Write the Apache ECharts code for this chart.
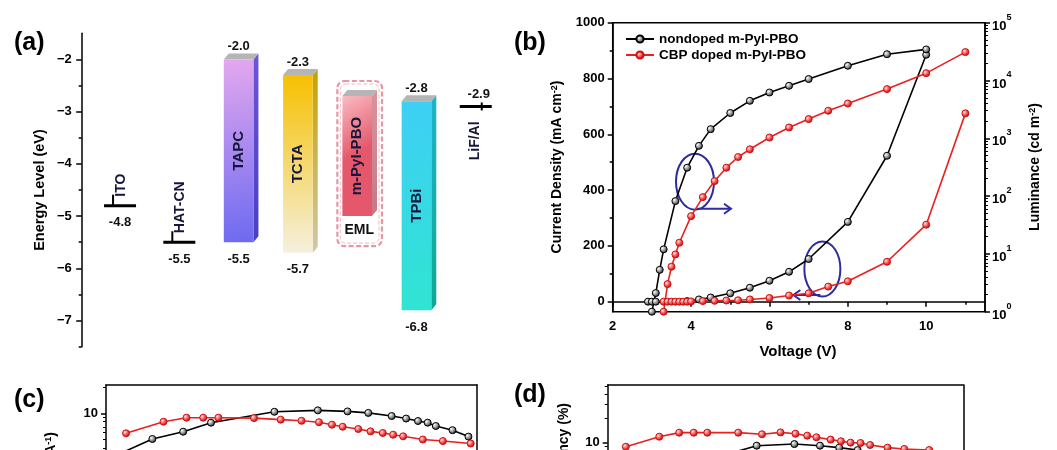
<!DOCTYPE html>
<html>
<head>
<meta charset="utf-8">
<script src="https://cdn.jsdelivr.net/npm/echarts@6/dist/echarts.min.js"></script>
<style>
  html, body { margin: 0; padding: 0; background: #ffffff; }
  #chart { width: 1057px; height: 450px; }
</style>
</head>
<body>
<div id="chart"></div>
<script>
// ---------------- DATA ----------------
// (a) energy levels
const layerNames  = ['ITO', 'HAT-CN', 'TAPC', 'TCTA', 'm-PyI-PBO', 'TPBi', 'LiF/Al'];
const lumoLevels  = [null, null, -2.0, -2.3, -2.7, -2.8, -2.9];
const homoLevels  = [-4.8, -5.5, -5.5, -5.7, -5.0, -6.8, null];
const emlLayer    = 'm-PyI-PBO';
const energyTicks = [-7, -6, -5, -4, -3, -2];

// (b) J-V-L
const seriesNames     = ['nondoped m-PyI-PBO', 'CBP doped m-PyI-PBO'];
const voltNondopedJ   = [2.9, 3.0, 3.1, 3.9, 4.2, 4.5, 5.0, 5.5, 6.0, 6.5, 7.0, 8.0, 9.0, 10.0];
const jNondoped       = [0, 0, 0, 2, 8, 15, 30, 50, 75, 107, 153, 286, 523, 885];
const voltNondopedL   = [3.0, 3.1, 3.2, 3.3, 3.6, 3.9, 4.2, 4.5, 5.0, 5.5, 6.0, 6.5, 7.0, 8.0, 9.0, 10.0];
const lumNondoped     = [1, 2.1, 5.3, 12, 82, 310, 740, 1440, 2740, 4450, 6200, 8100, 10600, 18000, 28500, 34500];
const voltDopedJ      = [3.3, 3.4, 3.5, 3.6, 3.7, 3.8, 3.9, 4.0, 4.3, 4.6, 4.9, 5.2, 5.5, 6.0, 6.5, 7.0, 7.5, 8.0, 9.0, 10.0, 11.0];
const jDoped          = [0, 0, 0, 0, 0, 0, 0, 1, 2, 3, 4, 5, 8, 13, 22, 30, 54, 73, 143, 276, 675];
const voltDopedL      = [3.3, 3.4, 3.5, 3.6, 3.7, 4.0, 4.3, 4.6, 4.9, 5.2, 5.5, 6.0, 6.5, 7.0, 7.5, 8.0, 9.0, 10.0, 11.0];
const lumDoped        = [1, 3.0, 6.0, 9.8, 15.6, 45, 96, 182, 310, 475, 645, 1030, 1540, 2150, 3000, 4000, 7100, 13400, 31000];
const voltTicks       = [2, 4, 6, 8, 10];
const voltMinorTicks  = [3, 5, 7, 9, 11];
const jTicks          = [0, 200, 400, 600, 800, 1000];
const jMinorTicks     = [100, 300, 500, 700, 900];
const lumTicks        = [1, 10, 100, 1000, 10000, 100000];
const annotCenters    = [[4.1, 430], [7.35, 117]];

// (c) current efficiency (only the top strip is visible)
const ceXNondoped = [3.5, 12.5, 20.8, 28.3, 45.4, 57.1, 65.1, 70.7, 77.0, 80.9, 84.1, 86.7, 88.9, 93.4, 97.7];
const ceNondoped  = [3.4, 5.07, 6.15, 7.8, 10.4, 10.8, 10.5, 10.1, 9.3, 8.7, 8.15, 7.8, 7.15, 6.4, 5.4];
const ceXDoped    = [5.4, 15.5, 21.7, 26.2, 30.3, 39.9, 47.1, 52.7, 57.4, 60.9, 63.8, 68.0, 71.3, 74.6, 77.4, 80.1, 85.4, 90.8, 98.3];
const ceDoped     = [5.89, 8.0, 8.9, 8.9, 8.9, 8.8, 8.45, 8.2, 7.9, 7.4, 7.0, 6.6, 6.2, 5.94, 5.68, 5.44, 5.0, 4.8, 4.5];

// (d) EQE (only the top strip is visible)
const eqeXNondoped = [25, 41.9, 52.5, 59.7, 65.1, 70.3, 76, 82];
const eqeNondoped  = [5.5, 9.07, 9.5, 9.07, 8.57, 8.0, 7.0, 6.0];
const eqeXDoped    = [5.1, 14.5, 20.1, 24.2, 28.0, 36.7, 43.4, 48.6, 52.8, 56.1, 58.7, 62.7, 65.6, 68.3, 71.1, 73.8, 78.7, 83.4, 90.4];
const eqeDoped     = [8.8, 11.75, 13.2, 13.2, 13.2, 13.2, 12.6, 13.3, 12.8, 12.1, 11.55, 10.8, 10.3, 9.9, 9.8, 9.25, 8.57, 8.25, 8.0];

// ---------------- STYLE ----------------
const FONT = '"Liberation Sans", Arial, Helvetica, sans-serif';
const barStyles = {
  'TAPC':      { dir: [0, 0, 1, 1],   from: '#e4a8ef', to: '#6c6af1', side: ['#6a56d8', '#4a40c0'] },
  'TCTA':      { dir: [0, 0, 0, 1],   from: '#f6c000', to: '#f5f0de', side: ['#c9a000', '#cfc8a8'] },
  'm-PyI-PBO': { dir: [0, 0, 1, 0.4], from: '#f9bcc4', to: '#e5586b', side: ['#d8949e', '#c47a86'] },
  'TPBi':      { dir: [0, 0, 0, 1],   from: '#3ecff5', to: '#30e4d2', side: ['#1fb3c6', '#10a894'] }
};
function pairs(xs, ys) { return xs.map((x, i) => [x, ys[i]]); }
function markerFill(dark) {
  return dark
    ? new echarts.graphic.RadialGradient(0.35, 0.35, 0.7, [{offset: 0, color: '#ffffff'}, {offset: 0.55, color: '#8a8a8a'}, {offset: 1, color: '#111111'}])
    : new echarts.graphic.RadialGradient(0.35, 0.35, 0.7, [{offset: 0, color: '#ffe4e4'}, {offset: 0.55, color: '#f04a4a'}, {offset: 1, color: '#b00000'}]);
}
function lineSeries(name, data, xi, yi, dark) {
  return {
    name: name, type: 'line', xAxisIndex: xi, yAxisIndex: yi, data: data,
    symbol: 'circle', symbolSize: 7, showSymbol: true,
    lineStyle: { color: dark ? '#000000' : '#e8211f', width: 1.6 },
    itemStyle: { color: markerFill(dark), borderColor: dark ? '#000000' : '#d01010', borderWidth: 1 },
    emphasis: { disabled: true }
  };
}

function renderLayer(params, api) {
  const i = params.dataIndex;
  const name = layerNames[i];
  const lumo = lumoLevels[i];
  const homo = homoLevels[i];
  const cx = api.coord([i, -4])[0];
  const band = api.size([1, 0])[0];
  const w = band * 0.5, d = 5, dy = 6;
  const kids = [];
  const lbl = (txt, x, y, size) => ({ type: 'text', x: x, y: y,
    style: { text: txt, font: 'bold ' + (size || 13) + 'px ' + FONT, fill: '#111', align: 'center', verticalAlign: 'middle' } });
  const vname = (txt, x, y, align, size) => ({ type: 'text', x: x, y: y, rotation: Math.PI / 2,
    style: { text: txt, font: 'bold ' + (size || 15) + 'px ' + FONT, fill: '#16163a', align: align, verticalAlign: 'middle' } });

  if (lumo != null && homo != null) {
    const yT = api.coord([i, lumo])[1], yB = api.coord([i, homo])[1];
    const x0 = cx - w / 2, x1 = cx + w / 2;
    const st = barStyles[name];
    if (name === emlLayer) {
      kids.push({ type: 'rect', shape: { x: x0 - 5, y: yT - 15, width: w + d + 10, height: yB - yT + 45, r: 7 },
        style: { fill: 'rgba(255,255,255,0)', stroke: '#e896a3', lineWidth: 2.2, lineDash: [5, 2.5] } });
      kids.push({ type: 'rect', shape: { x: x0 - 2, y: yT - 12, width: w + d + 4, height: yB - yT + 39, r: 5 },
        style: { fill: 'rgba(255,255,255,0)', stroke: '#f2b8c1', lineWidth: 1, lineDash: [4, 2] } });
      kids.push(lbl('EML', cx + 2, yB + 14, 14));
    }
    kids.push({ type: 'polygon', shape: { points: [[x1, yT], [x1 + d, yT - dy], [x1 + d, yB - dy], [x1, yB]] },
      style: { fill: new echarts.graphic.LinearGradient(0, 0, 0, 1, [{offset: 0, color: st.side[0]}, {offset: 1, color: st.side[1]}]) } });
    kids.push({ type: 'polygon', shape: { points: [[x0, yT], [x0 + d, yT - dy], [x1 + d, yT - dy], [x1, yT]] },
      style: { fill: '#b5b5b5' } });
    kids.push({ type: 'rect', shape: { x: x0, y: yT, width: w, height: yB - yT },
      style: { fill: new echarts.graphic.LinearGradient(st.dir[0], st.dir[1], st.dir[2], st.dir[3],
        [{offset: 0, color: st.from}, {offset: 1, color: st.to}]) } });
    kids.push(vname(name, cx, (yT + yB) / 2, 'center'));
    if (name !== emlLayer) {
      kids.push(lbl(lumo.toFixed(1), cx, yT - 13));
      kids.push(lbl(homo.toFixed(1), cx, yB + 17));
    }
  } else if (homo != null) {
    const y = api.coord([i, homo])[1];
    kids.push({ type: 'line', shape: { x1: cx - 16, y1: y, x2: cx + 16, y2: y }, style: { stroke: '#000', lineWidth: 3 } });
    kids.push({ type: 'line', shape: { x1: cx - 7, y1: y, x2: cx - 7, y2: y - 11 }, style: { stroke: '#000', lineWidth: 2 } });
    kids.push(vname(name, cx + 1, y - 9, 'left', 14));
    kids.push(lbl(homo.toFixed(1), cx, y + 17));
  } else {
    const y = api.coord([i, lumo])[1];
    kids.push({ type: 'line', shape: { x1: cx - 16, y1: y, x2: cx + 16, y2: y }, style: { stroke: '#000', lineWidth: 3 } });
    kids.push({ type: 'line', shape: { x1: cx + 6, y1: y - 4, x2: cx + 6, y2: y + 4 }, style: { stroke: '#000', lineWidth: 2 } });
    kids.push(vname(name, cx - 1, y + 15, 'right', 14));
    kids.push(lbl(lumo.toFixed(1), cx + 3, y - 12));
  }
  return { type: 'group', children: kids };
}

// ---------------- AXES ----------------
const axisLineStyle = { color: '#000', width: 1.5 };
const tickLabel = { color: '#000', fontWeight: 'bold', fontSize: 13, fontFamily: FONT };
function minorTicks(fromDecade, toDecade) {
  const out = [];
  for (let k = fromDecade; k < toDecade; k++) for (let m = 2; m <= 9; m++) out.push(m * Math.pow(10, k));
  return out;
}
const supRich = {
  b: { fontSize: 13, fontWeight: 'bold', fontFamily: FONT, color: '#000', lineHeight: 20, verticalAlign: 'bottom' },
  s: { fontSize: 9, fontWeight: 'bold', fontFamily: FONT, color: '#000', lineHeight: 10, verticalAlign: 'top' }
};
function frameAxisY(gridIndex, min, max) {
  return { gridIndex: gridIndex, type: 'log', logBase: 10, min: min, max: max, position: 'right',
    axisLine: { show: true, lineStyle: axisLineStyle }, axisTick: { show: false }, axisLabel: { show: false }, splitLine: { show: false } };
}
const ceMin = 3.79, ceMax = 21.1, eqeMin = 8.01, eqeMax = 52;

const option = {
  animation: false,
  backgroundColor: '#ffffff',
  grid: [
    { left: 90.4, top: 33.3, width: 415, height: 313.4 },
    { left: 612.7, top: 22.7, width: 372.3, height: 289, show: true, borderColor: '#000', borderWidth: 1.5, backgroundColor: 'transparent' },
    { left: 106, top: 385, width: 371, height: 65 },
    { left: 607.7, top: 385, width: 355.6, height: 65 }
  ],
  xAxis: [
    { gridIndex: 0, type: 'category', data: layerNames, show: false },
    { gridIndex: 1, type: 'value', min: 2, max: 11.5, position: 'bottom',
      axisLine: { lineStyle: axisLineStyle },
      axisTick: { customValues: voltTicks, length: 5, lineStyle: axisLineStyle },
      axisLabel: Object.assign({ customValues: voltTicks, margin: 8, fontSize: 14 }, tickLabel),
      splitLine: { show: false } },
    { gridIndex: 1, type: 'value', min: 2, max: 11.5, position: 'bottom',
      axisLine: { show: false },
      axisTick: { customValues: voltMinorTicks, length: 3, lineStyle: axisLineStyle },
      axisLabel: { show: false }, splitLine: { show: false } },
    { gridIndex: 2, type: 'value', min: 0, max: 100, position: 'top', axisLine: { lineStyle: axisLineStyle },
      axisTick: { show: false }, axisLabel: { show: false }, splitLine: { show: false } },
    { gridIndex: 3, type: 'value', min: 0, max: 100, position: 'top', axisLine: { lineStyle: axisLineStyle },
      axisTick: { show: false }, axisLabel: { show: false }, splitLine: { show: false } }
  ],
  yAxis: [
    { gridIndex: 0, type: 'value', min: -7.5, max: -1.5, position: 'left', offset: 8.7,
      axisLine: { show: true, lineStyle: axisLineStyle },
      axisTick: { show: true, customValues: energyTicks, length: 5.5, lineStyle: axisLineStyle },
      axisLabel: Object.assign({ customValues: energyTicks, margin: 10, fontSize: 14,
        formatter: v => (v < 0 ? '\u2212' : '') + Math.abs(v) }, tickLabel),
      splitLine: { show: false } },
    { gridIndex: 0, type: 'value', min: -7.5, max: -1.5, position: 'left', offset: 8.7,
      axisLine: { show: false },
      axisTick: { show: true, customValues: [-7.5, -6.5, -5.5, -4.5, -3.5, -2.5], length: 3, lineStyle: axisLineStyle },
      axisLabel: { show: false }, splitLine: { show: false } },
    { gridIndex: 1, type: 'value', min: -36, max: 1000, position: 'left',
      axisLine: { show: true, lineStyle: axisLineStyle },
      axisTick: { show: true, customValues: jTicks, length: 5, lineStyle: axisLineStyle },
      axisLabel: Object.assign({ customValues: jTicks, margin: 8, formatter: v => String(v) }, tickLabel),
      splitLine: { show: false } },
    { gridIndex: 1, type: 'value', min: -36, max: 1000, position: 'left',
      axisLine: { show: false },
      axisTick: { show: true, customValues: jMinorTicks, length: 3, lineStyle: axisLineStyle },
      axisLabel: { show: false }, splitLine: { show: false } },
    { gridIndex: 1, type: 'log', logBase: 10, min: 1, max: 100000, position: 'right',
      axisLine: { show: true, lineStyle: axisLineStyle },
      axisTick: { show: true, customValues: lumTicks, length: 5, lineStyle: axisLineStyle },
      axisLabel: { customValues: lumTicks, margin: 7, rich: supRich,
        formatter: v => '{b|10}{s|' + Math.round(Math.log10(v)) + '}' },
      splitLine: { show: false } },
    { gridIndex: 1, type: 'log', logBase: 10, min: 1, max: 100000, position: 'right',
      axisLine: { show: false },
      axisTick: { show: true, customValues: minorTicks(0, 5), length: 3, lineStyle: { color: '#000', width: 1 } },
      axisLabel: { show: false }, splitLine: { show: false } },
    { gridIndex: 2, type: 'log', logBase: 10, min: ceMin, max: ceMax, position: 'left',
      axisLine: { show: true, lineStyle: axisLineStyle },
      axisTick: { show: true, customValues: [10], length: 5, lineStyle: axisLineStyle },
      axisLabel: Object.assign({ customValues: [10], margin: 8, formatter: v => String(Math.round(v)) }, tickLabel),
      splitLine: { show: false } },
    { gridIndex: 2, type: 'log', logBase: 10, min: ceMin, max: ceMax, position: 'left',
      axisLine: { show: false },
      axisTick: { show: true, customValues: [4, 5, 6, 7, 8, 9, 20], length: 3, lineStyle: { color: '#000', width: 1 } },
      axisLabel: { show: false }, splitLine: { show: false } },
    { gridIndex: 3, type: 'log', logBase: 10, min: eqeMin, max: eqeMax, position: 'left',
      axisLine: { show: true, lineStyle: axisLineStyle },
      axisTick: { show: true, customValues: [10], length: 5, lineStyle: axisLineStyle },
      axisLabel: Object.assign({ customValues: [10], margin: 8, formatter: v => String(Math.round(v)) }, tickLabel),
      splitLine: { show: false } },
    { gridIndex: 3, type: 'log', logBase: 10, min: eqeMin, max: eqeMax, position: 'left',
      axisLine: { show: false },
      axisTick: { show: true, customValues: [9, 20, 30, 40, 50], length: 3, lineStyle: { color: '#000', width: 1 } },
      axisLabel: { show: false }, splitLine: { show: false } },
    frameAxisY(2, ceMin, ceMax),
    frameAxisY(3, eqeMin, eqeMax)
  ],
  legend: {
    data: seriesNames, left: 625, top: 32, orient: 'vertical',
    itemWidth: 28, itemHeight: 9, itemGap: 2, padding: 0,
    textStyle: { color: '#000', fontWeight: 'bold', fontSize: 13.5, fontFamily: FONT, lineHeight: 14 },
    selectedMode: false
  },
  series: [
    { type: 'custom', xAxisIndex: 0, yAxisIndex: 0, renderItem: renderLayer,
      data: layerNames.map((n, i) => [i, homoLevels[i] != null ? homoLevels[i] : lumoLevels[i]]) },
    lineSeries(seriesNames[0], pairs(voltNondopedJ, jNondoped), 1, 2, true),
    lineSeries(seriesNames[0], pairs(voltNondopedL, lumNondoped), 1, 4, true),
    lineSeries(seriesNames[1], pairs(voltDopedJ, jDoped), 1, 2, false),
    lineSeries(seriesNames[1], pairs(voltDopedL, lumDoped), 1, 4, false),
    lineSeries(seriesNames[0], pairs(ceXNondoped, ceNondoped), 3, 6, true),
    lineSeries(seriesNames[1], pairs(ceXDoped, ceDoped), 3, 6, false),
    lineSeries(seriesNames[0], pairs(eqeXNondoped, eqeNondoped), 4, 8, true),
    lineSeries(seriesNames[1], pairs(eqeXDoped, eqeDoped), 4, 8, false)
  ]
};

const chart = echarts.init(document.getElementById('chart'), null, { renderer: 'canvas' });
chart.setOption(option);

// ---------------- TEXT & ANNOTATIONS ----------------
const titleRich = { s: { fontSize: 9, fontWeight: 'bold', fontFamily: FONT, fill: '#000', verticalAlign: 'top', lineHeight: 10, padding: [0, 0, 6, 0] } };
function txt(t, x, y, size, opts) {
  return Object.assign({ type: 'text', x: x, y: y, silent: true,
    style: Object.assign({ text: t, font: 'bold ' + size + 'px ' + FONT, fill: '#000', align: 'left', verticalAlign: 'middle', rich: titleRich },
      (opts && opts.style) || {}) }, (opts && opts.el) || {});
}
const ROT = Math.PI / 2;
const graphics = [
  txt('(a)', 14, 43, 25),
  txt('(b)', 514, 43, 25),
  txt('(c)', 14, 400, 25),
  txt('(d)', 514, 395, 25),
  txt('Energy Level (eV)', 40, 190, 14.5, { el: { rotation: ROT }, style: { align: 'center' } }),
  txt('Current Density (mA cm{s|-2})', 557, 167, 14, { el: { rotation: ROT }, style: { align: 'center' } }),
  txt('Luminance (cd m{s|-2})', 1035, 167, 14, { el: { rotation: ROT }, style: { align: 'center' } }),
  txt('Voltage (V)', 798, 352, 15, { style: { align: 'center' } }),
  txt('Current Efficiency (cd A{s|-1})', 51, 432, 14, { el: { rotation: ROT }, style: { align: 'right' } }),
  txt('External Quantum Efficiency (%)', 564, 403, 14, { el: { rotation: ROT }, style: { align: 'right' } })
];
const blue = '#2c2c9e';
const c1 = chart.convertToPixel({ seriesIndex: 1 }, annotCenters[0]);
const c2 = chart.convertToPixel({ seriesIndex: 1 }, annotCenters[1]);
graphics.push(
  { type: 'ellipse', silent: true, shape: { cx: c1[0], cy: c1[1], rx: 19, ry: 28 }, style: { fill: 'none', stroke: blue, lineWidth: 2 } },
  { type: 'polyline', silent: true, shape: { points: [[c1[0] + 2, c1[1] + 27], [c1[0] + 36, c1[1] + 27]] }, style: { stroke: blue, lineWidth: 2 } },
  { type: 'polyline', silent: true, shape: { points: [[c1[0] + 29, c1[1] + 22], [c1[0] + 36, c1[1] + 27], [c1[0] + 29, c1[1] + 32]] }, style: { stroke: blue, lineWidth: 2, fill: 'none' } },
  { type: 'ellipse', silent: true, shape: { cx: c2[0], cy: c2[1], rx: 18, ry: 27.5 }, style: { fill: 'none', stroke: blue, lineWidth: 2 } },
  { type: 'polyline', silent: true, shape: { points: [[c2[0] - 2, c2[1] + 26], [c2[0] - 29, c2[1] + 26]] }, style: { stroke: blue, lineWidth: 2 } },
  { type: 'polyline', silent: true, shape: { points: [[c2[0] - 22, c2[1] + 21], [c2[0] - 29, c2[1] + 26], [c2[0] - 22, c2[1] + 31]] }, style: { stroke: blue, lineWidth: 2, fill: 'none' } }
);
chart.setOption({ graphic: graphics });
</script>
</body>
</html>
